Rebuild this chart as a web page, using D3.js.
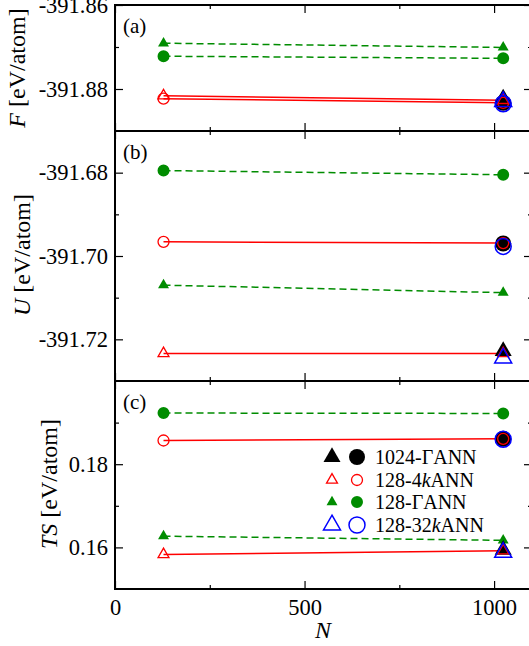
<!DOCTYPE html>
<html>
<head>
<meta charset="utf-8">
<script src="https://cdn.jsdelivr.net/npm/d3@7"></script>
<style>
  body { margin: 0; background: #fff; }
  text { font-family: "Liberation Serif", "DejaVu Serif", serif; fill: #000; }
</style>
</head>
<body>
<script>
// N values of the two supercells
var nAtoms = [128, 1024];

// tick values
var xMajor = [0, 500, 1000];
var xMinor = [250, 750];
var fMajor = [-391.88, -391.86];
var fMinor = [-391.87];
var uMajor = [-391.72, -391.70, -391.68];
var uMinor = [-391.71, -391.69];
var tsMajor = [0.16, 0.18];
var tsMinor = [0.17, 0.19];

// values per panel [F, U, TS], each [N=128, N=1024]
// 128-4kANN (red, open)
var k4Triangle = [[-391.8816, -391.8827], [-391.7234, -391.7234], [0.1583, 0.1592]];
var k4Circle   = [[-391.8823, -391.8833], [-391.6966, -391.6969], [0.1857, 0.1861]];
// 128-GammaANN (green, filled)
var gTriangle  = [[-391.8691, -391.8701], [-391.7070, -391.7088], [0.1627, 0.1617]];
var gCircle    = [[-391.8722, -391.8727], [-391.6795, -391.6805], [0.1923, 0.1922]];
// 1024-GammaANN (black, filled) and 128-32kANN (blue, open), N=1024 only: [F, U, TS]
var refTriangle = [-391.8823, -391.7228, 0.1594];
var refCircle   = [-391.8833, -391.6970, 0.1861];
var k32Triangle = [-391.8830, -391.7245, 0.1588];
var k32Circle   = [-391.8835, -391.6977, 0.1860];

var w = 529;
var h = 646;
var green = "#008c00";

var svg = d3.select("body")
    .append("svg")
    .attr("width", w)
    .attr("height", h);

svg.append("rect")
    .attr("width", w)
    .attr("height", h)
    .attr("fill", "#fff");

var xScale = d3.scaleLinear().domain([0, 1100]).range([115, 532]);

var panels = [
  { domain: [-391.89, -391.86], top: 5, bottom: 131, major: fMajor, minor: fMinor, fmt: 2, tag: "(a)" },
  { domain: [-391.73, -391.67], top: 131, bottom: 381, major: uMajor, minor: uMinor, fmt: 2, tag: "(b)" },
  { domain: [0.15, 0.20], top: 381, bottom: 589, major: tsMajor, minor: tsMinor, fmt: 2, tag: "(c)" }
];

var triSmall = d3.symbol().type(d3.symbolTriangle).size(52);
var triGreen = d3.symbol().type(d3.symbolTriangle).size(52);
var triBig = d3.symbol().type(d3.symbolTriangle).size(125);
var circSmall = d3.symbol().type(d3.symbolCircle).size(95);
var circGreen = d3.symbol().type(d3.symbolCircle).size(113);
var circBig = d3.symbol().type(d3.symbolCircle).size(201);

function styleAxis(g, labels) {
  g.select(".domain").remove();
  g.selectAll(".tick line").attr("stroke", "#000").attr("stroke-width", 1.2);
  g.selectAll(".tick text")
      .attr("font-family", "Liberation Serif")
      .attr("font-size", 22.5)
      .attr("fill", "#000");
  if (!labels) { g.selectAll(".tick text").remove(); }
}

function marker(g, sym, x, y, fill, stroke, sw) {
  g.append("path")
      .attr("d", sym())
      .attr("transform", "translate(" + x + "," + y + ")")
      .attr("fill", fill)
      .attr("stroke", stroke)
      .attr("stroke-width", sw);
}

panels.forEach(function(p, i) {
  var yScale = d3.scaleLinear().domain(p.domain).range([p.bottom, p.top]);
  var g = svg.append("g");
  var fmt = function(d) { return d.toFixed(p.fmt); };

  // y ticks left (labels) and right
  g.append("g").attr("transform", "translate(115,0)")
      .call(d3.axisLeft(yScale).tickValues(p.major).tickSize(-8).tickPadding(7).tickFormat(fmt))
      .call(styleAxis, true);
  g.append("g").attr("transform", "translate(115,0)")
      .call(d3.axisLeft(yScale).tickValues(p.minor).tickSize(-4))
      .call(styleAxis, false);
  g.append("g").attr("transform", "translate(532,0)")
      .call(d3.axisRight(yScale).tickValues(p.major).tickSize(-8))
      .call(styleAxis, false);
  g.append("g").attr("transform", "translate(532,0)")
      .call(d3.axisRight(yScale).tickValues(p.minor).tickSize(-4))
      .call(styleAxis, false);

  // x ticks top and bottom
  g.append("g").attr("transform", "translate(0," + p.top + ")")
      .call(d3.axisTop(xScale).tickValues(xMajor).tickSize(-8))
      .call(styleAxis, false);
  g.append("g").attr("transform", "translate(0," + p.top + ")")
      .call(d3.axisTop(xScale).tickValues(xMinor).tickSize(-4))
      .call(styleAxis, false);
  g.append("g").attr("transform", "translate(0," + p.bottom + ")")
      .call(d3.axisBottom(xScale).tickValues(xMajor).tickSize(-8).tickPadding(10).tickFormat(d3.format("d")))
      .call(styleAxis, i == 2);
  g.append("g").attr("transform", "translate(0," + p.bottom + ")")
      .call(d3.axisBottom(xScale).tickValues(xMinor).tickSize(-4))
      .call(styleAxis, false);

  // frame
  g.append("rect")
      .attr("x", 115)
      .attr("y", p.top)
      .attr("width", 532 - 115)
      .attr("height", p.bottom - p.top)
      .attr("fill", "none")
      .attr("stroke", "#000")
      .attr("stroke-width", 2);

  g.append("text")
      .attr("x", 123)
      .attr("y", p.top + 28)
      .attr("font-size", 21)
      .text(p.tag);

  var line = d3.line()
      .x(function(d, j) { return xScale(nAtoms[j]); })
      .y(function(d) { return yScale(d); });

  [gTriangle, gCircle].forEach(function(s) {
    g.append("path")
        .attr("d", line(s[i]))
        .attr("fill", "none")
        .attr("stroke", green)
        .attr("stroke-width", 1.5)
        .attr("stroke-dasharray", "7,4");
  });
  [k4Triangle, k4Circle].forEach(function(s) {
    g.append("path")
        .attr("d", line(s[i]))
        .attr("fill", "none")
        .attr("stroke", "#ff0000")
        .attr("stroke-width", 1.5);
  });

  nAtoms.forEach(function(n, j) {
    marker(g, triGreen, xScale(n), yScale(gTriangle[i][j]), green, "none", 0);
    marker(g, circGreen, xScale(n), yScale(gCircle[i][j]), green, "none", 0);
  });
  marker(g, triBig, xScale(1024), yScale(refTriangle[i]), "#000", "none", 0);
  marker(g, circBig, xScale(1024), yScale(refCircle[i]), "#000", "none", 0);
  nAtoms.forEach(function(n, j) {
    marker(g, triSmall, xScale(n), yScale(k4Triangle[i][j]), "none", "#ff0000", 1.3);
    marker(g, circSmall, xScale(n), yScale(k4Circle[i][j]), "none", "#ff0000", 1.3);
  });
  marker(g, triBig, xScale(1024), yScale(k32Triangle[i]), "none", "#0000ff", 1.5);
  marker(g, circBig, xScale(1024), yScale(k32Circle[i]), "none", "#0000ff", 1.5);
});

// y axis titles
function yTitle(x, y, italic) {
  var t = svg.append("text")
      .attr("transform", "translate(" + x + "," + y + ") rotate(-90)")
      .attr("text-anchor", "middle")
      .attr("font-size", 24);
  t.append("tspan").attr("font-style", "italic").text(italic);
  t.append("tspan").text(" [eV/atom]");
}
yTitle(25, 68, "F");
yTitle(30, 255, "U");
yTitle(57, 484, "TS");

svg.append("text")
    .attr("x", 323)
    .attr("y", 638)
    .attr("text-anchor", "middle")
    .attr("font-size", 24)
    .attr("font-style", "italic")
    .text("N");

// legend
var legendRows = [
  { tri: triBig, circ: circBig, fill: "#000", stroke: "none", pre: "1024-ΓANN", k: "", post: "" },
  { tri: triSmall, circ: circSmall, fill: "none", stroke: "#ff0000", pre: "128-4", k: "k", post: "ANN" },
  { tri: triGreen, circ: circGreen, fill: green, stroke: "none", pre: "128-ΓANN", k: "", post: "" },
  { tri: triBig, circ: circBig, fill: "none", stroke: "#0000ff", pre: "128-32", k: "k", post: "ANN" }
];
var legendY = [457, 480, 502, 525];

legendRows.forEach(function(r, i) {
  var y = legendY[i];
  var sw = r.stroke == "#0000ff" ? 1.5 : 1.3;
  marker(svg, r.tri, 332, y, r.fill, r.stroke, sw);
  marker(svg, r.circ, 357, y, r.fill, r.stroke, sw);
  var t = svg.append("text")
      .attr("x", 375)
      .attr("y", y + 7)
      .attr("font-size", 20);
  t.append("tspan").text(r.pre);
  if (r.k) {
    t.append("tspan").attr("font-style", "italic").text(r.k);
    t.append("tspan").text(r.post);
  }
});
</script>
</body>
</html>
